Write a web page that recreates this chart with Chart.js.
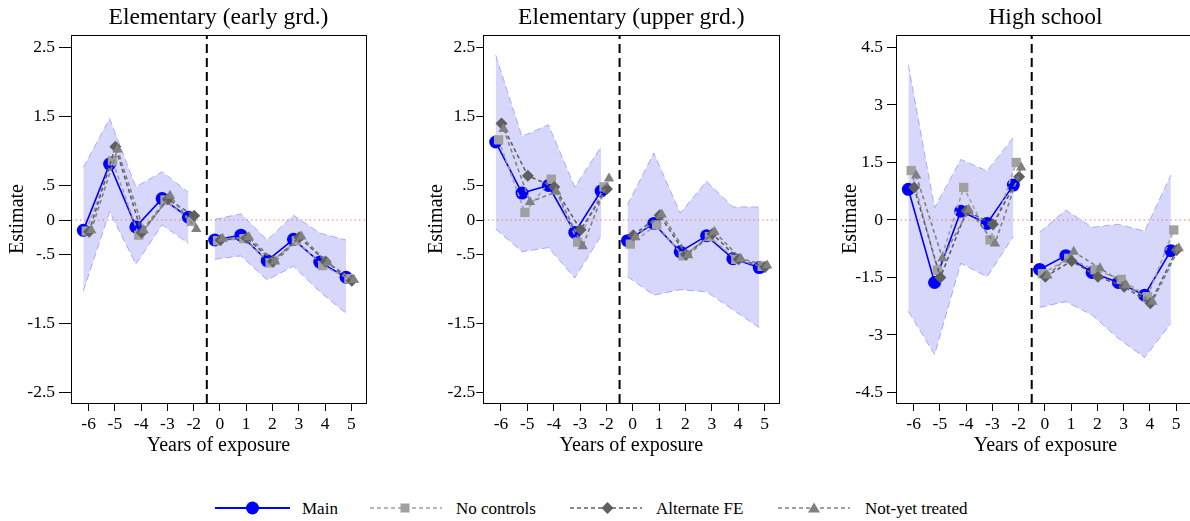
<!DOCTYPE html>
<html>
<head>
<meta charset="utf-8">
<script src="https://cdn.jsdelivr.net/npm/chart.js@4.4.1/dist/chart.umd.min.js"></script>
<style>
body { margin: 0; width: 1190px; height: 521px; overflow: hidden; background: #fff; position: relative; }
canvas { position: absolute; top: 0; }
#legend { position: absolute; left: 0; top: 490px; }
#legend text { font-family: "Liberation Serif", serif; font-size: 17px; fill: #000; }
</style>
</head>
<body>
<canvas id="early" width="380" height="470" style="left:0"></canvas>
<canvas id="upper" width="390" height="470" style="left:400px"></canvas>
<canvas id="high" width="400" height="470" style="left:810px"></canvas>

<svg id="legend" width="1190" height="31">
  <line x1="215" y1="18" x2="290" y2="18" stroke="#0000ff" stroke-width="2"/>
  <circle cx="252.5" cy="18" r="6.5" fill="#0000ff"/>
  <text x="302" y="23.5">Main</text>
  <line x1="370" y1="18" x2="442" y2="18" stroke="#a0a0a0" stroke-width="1.5" stroke-dasharray="4,3"/>
  <rect x="400.5" y="13.5" width="9" height="9" fill="#a0a0a0"/>
  <text x="456" y="23.5">No controls</text>
  <line x1="570" y1="18" x2="642" y2="18" stroke="#5f5f5f" stroke-width="1.5" stroke-dasharray="4,3"/>
  <polygon points="607.5,12 613.5,18 607.5,24 601.5,18" fill="#5f5f5f"/>
  <text x="656" y="23.5">Alternate FE</text>
  <line x1="778" y1="18" x2="850" y2="18" stroke="#808080" stroke-width="1.5" stroke-dasharray="4,3"/>
  <polygon points="814,12.5 820,22.5 808,22.5" fill="#808080"/>
  <text x="865" y="23.5">Not-yet treated</text>
</svg>

<script>
// event-time labels (the -1 year is the omitted reference period)
var xLabels = ['-6', '-5', '-4', '-3', '-2', '0', '1', '2', '3', '4', '5'];

// Elementary (early grades)
var earlyMain   = [-0.15, 0.81, -0.10, 0.31, 0.04, -0.29, -0.22, -0.59, -0.28, -0.61, -0.83];
var earlyNoCtrl = [-0.16, 0.86, -0.22, 0.29, -0.02, -0.30, -0.27, -0.62, -0.30, -0.66, -0.85];
var earlyAltFE  = [-0.17, 1.06, -0.18, 0.30, 0.06, -0.29, -0.26, -0.60, -0.25, -0.60, -0.88];
var earlyNotYet = [-0.15, 1.02, -0.15, 0.35, -0.13, -0.27, -0.25, -0.60, -0.24, -0.62, -0.87];
var earlyHi     = [0.76, 1.47, 0.48, 0.70, 0.40, 0.01, 0.09, -0.29, 0.07, -0.19, -0.29];
var earlyLo     = [-1.03, 0.12, -0.64, -0.07, -0.34, -0.57, -0.52, -0.87, -0.67, -1.04, -1.35];

// Elementary (upper grades)
var upperMain   = [1.13, 0.39, 0.50, -0.18, 0.42, -0.30, -0.05, -0.46, -0.23, -0.56, -0.69];
var upperNoCtrl = [1.16, 0.11, 0.59, -0.32, 0.48, -0.35, -0.07, -0.52, -0.24, -0.57, -0.67];
var upperAltFE  = [1.40, 0.64, 0.48, -0.14, 0.45, -0.22, 0.07, -0.50, -0.20, -0.57, -0.68];
var upperNotYet = [1.32, 0.26, 0.41, -0.38, 0.60, -0.25, 0.08, -0.51, -0.17, -0.56, -0.66];
var upperHi     = [2.39, 1.21, 1.38, 0.48, 1.06, 0.22, 0.97, 0.10, 0.56, 0.19, 0.19];
var upperLo     = [-0.13, -0.46, -0.40, -0.84, -0.23, -0.82, -1.09, -1.01, -1.04, -1.30, -1.56];

// High school
var highMain   = [0.80, -1.63, 0.23, -0.09, 0.91, -1.29, -0.93, -1.37, -1.63, -1.96, -0.80];
var highNoCtrl = [1.29, -1.31, 0.85, -0.52, 1.50, -1.40, -1.00, -1.30, -1.55, -2.00, -0.26];
var highAltFE  = [0.85, -1.50, 0.24, -0.11, 1.13, -1.48, -1.07, -1.48, -1.74, -2.17, -0.78];
var highNotYet = [1.16, -1.00, 0.27, -0.61, 1.37, -1.45, -0.83, -1.26, -1.70, -2.13, -0.74];
var highHi     = [4.05, 0.32, 1.58, 1.28, 2.15, -0.32, 0.26, -0.19, -0.11, -0.29, 1.17];
var highLo     = [-2.38, -3.51, -1.13, -1.48, -0.43, -2.28, -2.13, -2.48, -3.09, -3.59, -2.70];

var smallTicks = [2.5, 1.5, 0.5, 0, -0.5, -1.5, -2.5];
var smallTickLabels = ['2.5', '1.5', '.5', '0', '-.5', '-1.5', '-2.5'];
var highTicks = [4.5, 3, 1.5, 0, -1.5, -3, -4.5];
var highTickLabels = ['4.5', '3', '1.5', '0', '-1.5', '-3', '-4.5'];

var serif = '"Liberation Serif", "Times New Roman", serif';
var XMIN = -0.67;
var BREAK = 5; // index where the post period starts

// horizontal offsets so the four estimators don't sit on top of each other
var OFF = {main: -0.2, noCtrl: -0.09, altFE: 0.02, notYet: 0.1};

function pts(arr, off) {
    var out = [];
    arr.forEach((v, i) => {
        if (i == BREAK) out.push({x: i - 0.5 + off, y: null});
        out.push({x: i + off, y: v});
    });
    return out;
}
function part(arr, off, post) {
    var out = [];
    arr.forEach((v, i) => {
        if ((i >= BREAK) == post) out.push({x: i + off, y: v});
    });
    return out;
}

var frame = {
    id: 'frame',
    afterDatasetsDraw(chart) {
        var a = chart.chartArea, ctx = chart.ctx;
        ctx.save();
        ctx.strokeStyle = '#000';
        ctx.lineWidth = 1;
        ctx.strokeRect(Math.round(a.left) + 0.5, Math.round(a.top) + 0.5, Math.round(a.right - a.left), Math.round(a.bottom - a.top));
        ctx.restore();
    }
};

function ciSet(data, fill) {
    return {
        data: data, fill: fill, backgroundColor: 'rgba(40,40,240,0.19)',
        borderColor: 'rgba(90,90,255,0.45)', borderWidth: 1, borderDash: [7, 4],
        pointRadius: 0, tension: 0, order: 10
    };
}
function series(data, color, style, radius, dash, width, order) {
    return {
        data: data, borderColor: color, backgroundColor: color, pointBackgroundColor: color,
        pointBorderColor: color, pointBorderWidth: 0, pointStyle: style, pointRadius: radius,
        borderDash: dash, borderWidth: width, spanGaps: false, tension: 0, fill: false, order: order
    };
}

function makeChart(id, p) {
    var ymin = p.ymin, ymax = p.ymax;
    new Chart(id, {
        type: 'line',
        data: {
            datasets: [
                ciSet(part(p.hi, OFF.main, false), '+1'),
                ciSet(part(p.lo, OFF.main, false), false),
                ciSet(part(p.hi, OFF.main, true), '+1'),
                ciSet(part(p.lo, OFF.main, true), false),
                {data: [{x: XMIN, y: 0}, {x: p.xmax, y: 0}], borderColor: '#ff7070', borderWidth: 1.2,
                 borderDash: [1.5, 3], pointRadius: 0, order: 9},
                {data: [{x: BREAK - 0.5, y: ymin}, {x: BREAK - 0.5, y: ymax}], borderColor: '#000', borderWidth: 2,
                 borderDash: [9, 5], pointRadius: 0, order: 8},
                series(pts(p.main, OFF.main), '#0000ff', 'circle', 6.5, [], 1.6, 4),
                series(pts(p.noCtrl, OFF.noCtrl), '#a0a0a0', 'rect', 6.6, [4, 3], 1.6, 3),
                series(pts(p.altFE, OFF.altFE), '#5f5f5f', 'rectRot', 6, [4, 3], 1.6, 2),
                series(pts(p.notYet, OFF.notYet), '#808080', 'triangle', 6, [4, 3], 1.6, 1)
            ]
        },
        options: {
            responsive: false, animation: false, events: [],
            layout: {padding: {left: p.padL, right: p.padR, top: 0, bottom: 9}},
            plugins: {
                legend: {display: false}, tooltip: {enabled: false},
                title: {display: true, fullSize: false, text: p.title, color: '#000',
                        font: {family: serif, size: 23.5, weight: 'normal', lineHeight: 1.2},
                        padding: {top: 4, bottom: 2.8}}
            },
            scales: {
                x: {
                    type: 'linear', min: XMIN, max: p.xmax,
                    afterBuildTicks: s => { s.ticks = xLabels.map((_, i) => ({value: i})) },
                    afterFit: s => { s.height = 58 },
                    ticks: {callback: v => xLabels[v], color: '#000', font: {family: serif, size: 17.5},
                            padding: 3, maxRotation: 0, autoSkip: false},
                    grid: {drawOnChartArea: false, tickLength: 8, color: '#000', tickColor: '#000'},
                    border: {color: '#000', width: 1},
                    title: {display: true, text: 'Years of exposure', color: '#000',
                            font: {family: serif, size: 20}, padding: {top: 0, bottom: 3.5}}
                },
                y: {
                    type: 'linear', min: ymin, max: ymax,
                    afterBuildTicks: s => { s.ticks = p.ticks.map(v => ({value: v})) },
                    afterFit: s => { s.width = p.yWidth },
                    ticks: {callback: (v, i) => p.tickLabels[i], color: '#000', font: {family: serif, size: 17.5},
                            padding: p.tickPad},
                    grid: {drawOnChartArea: false, tickLength: p.tickLen, color: '#000', tickColor: '#000'},
                    border: {color: '#000', width: 1},
                    title: {display: true, text: 'Estimate', color: '#000',
                            font: {family: serif, size: 20}, padding: {top: 0, bottom: 0}}
                }
            }
        },
        plugins: [frame]
    });
}

makeChart('early', {
    title: 'Elementary (early grd.)', main: earlyMain, noCtrl: earlyNoCtrl, altFE: earlyAltFE,
    notYet: earlyNotYet, hi: earlyHi, lo: earlyLo, ticks: smallTicks, tickLabels: smallTickLabels,
    ymin: -2.652, ymax: 2.681, xmax: 10.56, padL: 6, yWidth: 65, padR: 14, tickLen: 12, tickPad: 4
});
makeChart('upper', {
    title: 'Elementary (upper grd.)', main: upperMain, noCtrl: upperNoCtrl, altFE: upperAltFE,
    notYet: upperNotYet, hi: upperHi, lo: upperLo, ticks: smallTicks, tickLabels: smallTickLabels,
    ymin: -2.652, ymax: 2.681, xmax: 10.56, padL: 25, yWidth: 58.3, padR: 10.7, tickLen: 7, tickPad: 1
});
makeChart('high', {
    title: 'High school', main: highMain, noCtrl: highNoCtrl, altFE: highAltFE,
    notYet: highNotYet, hi: highHi, lo: highLo, ticks: highTicks, tickLabels: highTickLabels,
    ymin: -4.774, ymax: 4.826, xmax: 10.72, padL: 29, yWidth: 57, padR: 15, tickLen: 9, tickPad: 4
});
</script>
</body>
</html>
